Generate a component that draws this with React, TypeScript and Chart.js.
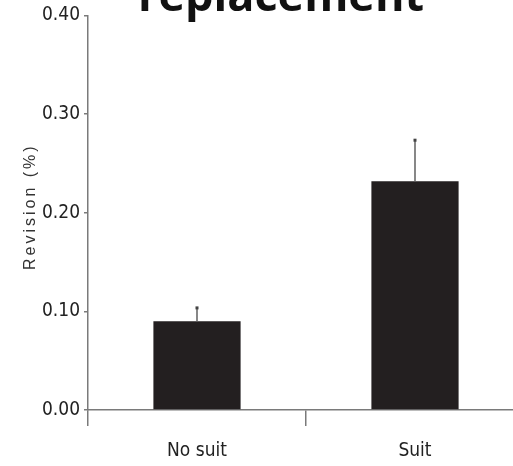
import React, { useEffect, useRef } from "react";
import { Chart, registerables } from "chart.js";

Chart.register(...registerables);

const categories: string[] = ["No suit", "Suit"];
const revision: number[] = [0.09, 0.232];
const errorUpper: number[] = [0.104, 0.274];
const titleText = "replacement";
const yAxisTitle = "Revision (%)";
const yMin = 0;
const yMax = 0.4;
const yStep = 0.1;

const NARROW = '"DejaVu Sans Condensed", "Liberation Sans Narrow", "Arial Narrow", sans-serif';

const errorBarPlugin = {
  id: "errorBars",
  afterDatasetsDraw(chart: any) {
    const meta = chart.getDatasetMeta(0);
    const yScale = chart.scales.y;
    const ctx = chart.ctx;
    ctx.save();
    meta.data.forEach((bar: any, i: number) => {
      const x = bar.x;
      const yTop = bar.y;
      const yErr = yScale.getPixelForValue(errorUpper[i]);
      ctx.strokeStyle = "#6a6a6a";
      ctx.lineWidth = 1.6;
      ctx.beginPath();
      ctx.moveTo(x, yTop);
      ctx.lineTo(x, yErr);
      ctx.stroke();
      ctx.fillStyle = "#444";
      ctx.fillRect(x - 1.5, yErr - 1, 3, 3);
    });
    ctx.restore();
  },
};

const textPlugin = {
  id: "extraText",
  afterDraw(chart: any) {
    const ctx = chart.ctx;
    const area = chart.chartArea;
    ctx.save();
    ctx.fillStyle = "#111";
    ctx.font = 'bold 45px "Open Sans", "Noto Sans", sans-serif';
    ctx.textAlign = "center";
    ctx.textBaseline = "alphabetic";
    ctx.fillText(titleText, 281, 11);
    ctx.restore();

    ctx.save();
    ctx.fillStyle = "#333";
    ctx.font = '16px "Liberation Sans", Arial, sans-serif';
    (ctx as any).letterSpacing = "3px";
    ctx.textAlign = "center";
    ctx.textBaseline = "middle";
    ctx.translate(31, (area.top + area.bottom) / 2 - 6);
    ctx.rotate(-Math.PI / 2);
    ctx.fillText(yAxisTitle, 0, 0);
    ctx.restore();
  },
};

export default function App() {
  const ref = useRef<HTMLCanvasElement | null>(null);

  useEffect(() => {
    if (!ref.current) return;
    const chart = new Chart(ref.current, {
      type: "bar",
      data: {
        labels: categories,
        datasets: [
          {
            data: revision,
            backgroundColor: "#231f20",
            borderWidth: 0,
            barPercentage: 0.4,
            categoryPercentage: 1,
          },
        ],
      },
      options: {
        animation: false,
        responsive: false,
        maintainAspectRatio: false,
        layout: { padding: { top: 12, left: 0, right: 0, bottom: 0 } },
        plugins: {
          legend: { display: false },
          tooltip: { enabled: false },
          title: { display: false },
        },
        scales: {
          x: {
            offset: true,
            grid: {
              offset: true,
              drawOnChartArea: false,
              drawTicks: true,
              tickLength: 16,
              color: "#7a7a7a",
              lineWidth: 1.5,
            },
            border: { display: true, color: "#7a7a7a", width: 1.5 },
            ticks: {
              color: "#222",
              font: { family: NARROW, size: 19 },
              padding: 14,
            },
            afterFit(scale: any) {
              scale.height = 56;
            },
          },
          y: {
            min: yMin,
            max: yMax,
            grid: {
              drawOnChartArea: false,
              drawTicks: true,
              tickLength: 4,
              color: "#7a7a7a",
              lineWidth: 1.5,
            },
            border: { display: true, color: "#7a7a7a", width: 1.5 },
            ticks: {
              stepSize: yStep,
              color: "#222",
              font: { family: NARROW, size: 19 },
              padding: 4,
              callback: (v: any) => Number(v).toFixed(2),
            },
            afterFit(scale: any) {
              scale.width = 88;
            },
          },
        },
      },
      plugins: [errorBarPlugin, textPlugin],
    });
    return () => chart.destroy();
  }, []);

  return (
    <div
      style={{
        position: "fixed",
        top: 0,
        left: 0,
        width: 513,
        height: 466,
        overflow: "hidden",
        background: "#fff",
      }}
    >
      <canvas ref={ref} width={524} height={466} style={{ width: 524, height: 466, display: "block" }} />
    </div>
  );
}
